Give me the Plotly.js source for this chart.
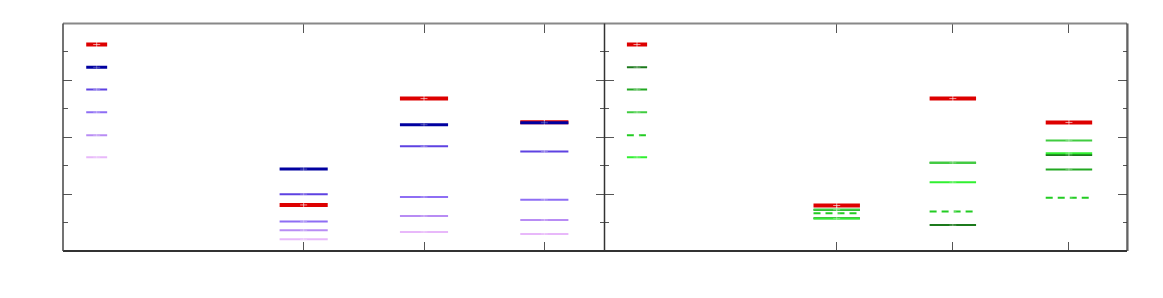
<!DOCTYPE html>
<html>
<head>
<meta charset="utf-8">
<script src="https://cdn.plot.ly/plotly-3.0.1.min.js"></script>
<style>html,body{margin:0;padding:0;background:#fff;}#chart{width:1163px;height:298px;}</style>
</head>
<body>
<div id="chart"></div>
<script>
// Category positions along x (same for both panels)
const categories = [0.28, 2, 3, 4];

// Left panel series (values per category)
const leftRed      = [3.63, 0.81, 2.68, 2.265];
const leftNavy     = [3.23, 1.44, 2.22, 2.255];
const leftBlue     = [2.84, 1.00, 1.84, 1.75];
const leftPurple   = [2.44, 0.52, 0.95, 0.90];
const leftLavender = [2.035, 0.365, 0.615, 0.545];
const leftPink     = [1.65, 0.205, 0.335, 0.30];

// Right panel series
const rightRed       = [3.63, 0.80, 2.68, 2.26];
const rightDarkGreen = [3.23, 0.575, 0.455, 1.69];
const rightGreen     = [2.84, 0.72, 1.55, 1.435];
const rightLightGreen= [2.44, 0.73, 1.55, 1.945];
const rightDashGreen = [2.035, 0.665, 0.695, 0.935];
const rightBright    = [1.65, 0.57, 1.21, 1.72];

const HALF = [0.087, 0.2, 0.2, 0.2];

function seg(vals, xa, ya, color, width, dash) {
  const xs = [], ys = [];
  vals.forEach((v, i) => {
    xs.push(categories[i] - HALF[i], categories[i] + HALF[i], null);
    ys.push(v, v, null);
  });
  return {
    x: xs, y: ys, xaxis: xa, yaxis: ya, mode: 'lines', type: 'scatter',
    line: {color: color, width: width, dash: dash || 'solid'},
    hoverinfo: 'skip', showlegend: false
  };
}
function marks(vals, xa, ya, alpha) {
  return {
    x: categories, y: vals, xaxis: xa, yaxis: ya, mode: 'markers', type: 'scatter',
    marker: {symbol: 'cross-thin', size: 5, line: {color: 'rgba(255,255,255,' + alpha + ')', width: 1}},
    hoverinfo: 'skip', showlegend: false
  };
}

const leftSeries = [
  [leftRed, '#dd0000', 4, 0.6],
  [leftNavy, '#0000a0', 3, 0.3],
  [leftBlue, '#5e42e2', 2, 0.3],
  [leftPurple, '#8e6ef4', 2, 0.3],
  [leftLavender, '#b88cf4', 2, 0.3],
  [leftPink, '#e8b8fa', 2, 0.3]
];
const rightSeries = [
  [rightRed, '#dd0000', 4, 'solid', 0.6],
  [rightDarkGreen, '#1c7a1c', 2, 'solid', 0.3],
  [rightGreen, '#22a822', 2, 'solid', 0.3],
  [rightLightGreen, '#40cc40', 2, 'solid', 0.3],
  [rightDashGreen, '#22cc22', 2, '7px,5px', 0.3],
  [rightBright, '#30f030', 2, 'solid', 0.3]
];

const data = [];
leftSeries.forEach(s => { data.push(seg(s[0], 'x', 'y', s[1], s[2])); data.push(marks(s[0], 'x', 'y', s[3])); });
rightSeries.forEach(s => { data.push(seg(s[0], 'x2', 'y2', s[1], s[2], s[3])); data.push(marks(s[0], 'x2', 'y2', s[4])); });

const W = 1163, H = 298;
const L = 63, M = 604.5, R = 1127, T = 23.5, B = 251;
const ydom = [(H - B) / H, (H - T) / H];

const xBase = {
  range: [0, 4.5], tickvals: [2, 3, 4], showticklabels: false,
  ticks: 'inside', ticklen: 9, tickwidth: 1, tickcolor: '#555',
  mirror: 'ticks', showline: false, showgrid: false, zeroline: false, fixedrange: true
};
const yBase = {
  range: [0, 4], domain: ydom, tickvals: [1, 2, 3], showticklabels: false,
  ticks: 'inside', ticklen: 9, tickwidth: 1, tickcolor: '#555',
  minor: {tickvals: [0.5, 1.5, 2.5, 3.5], ticks: 'inside', ticklen: 4.5, tickwidth: 1, tickcolor: '#555'},
  mirror: 'ticks', showline: false, showgrid: false, zeroline: false, fixedrange: true
};

function px(x) { return x / W; }
function py(y) { return (H - y) / H; }
const lineShape = (x0, y0, x1, y1, color, w) => ({
  type: 'line', xref: 'paper', yref: 'paper', x0: px(x0), y0: py(y0), x1: px(x1), y1: py(y1),
  line: {color: color, width: w}, layer: 'above'
});

const layout = {
  width: W, height: H, margin: {l: 0, r: 0, t: 0, b: 0},
  paper_bgcolor: '#fff', plot_bgcolor: 'rgba(0,0,0,0)',
  xaxis: Object.assign({}, xBase, {domain: [px(L), px(M)], anchor: 'y'}),
  yaxis: Object.assign({}, yBase, {anchor: 'x'}),
  xaxis2: Object.assign({}, xBase, {domain: [px(M), px(R)], anchor: 'y2'}),
  yaxis2: Object.assign({}, yBase, {anchor: 'x2'}),
  shapes: [
    lineShape(L, T, R, T, '#888888', 2),
    lineShape(L, B, R, B, '#333333', 2),
    lineShape(L, T, L, B, '#444444', 1.5),
    lineShape(M, T, M, B, '#333333', 1.5),
    lineShape(R + 1, T, R + 1, B, '#aaaaaa', 2),
    lineShape(R, T, R, B, '#333333', 1.2)
  ],
  showlegend: false
};

Plotly.newPlot('chart', data, layout, {displayModeBar: false, staticPlot: true});
</script>
</body>
</html>
